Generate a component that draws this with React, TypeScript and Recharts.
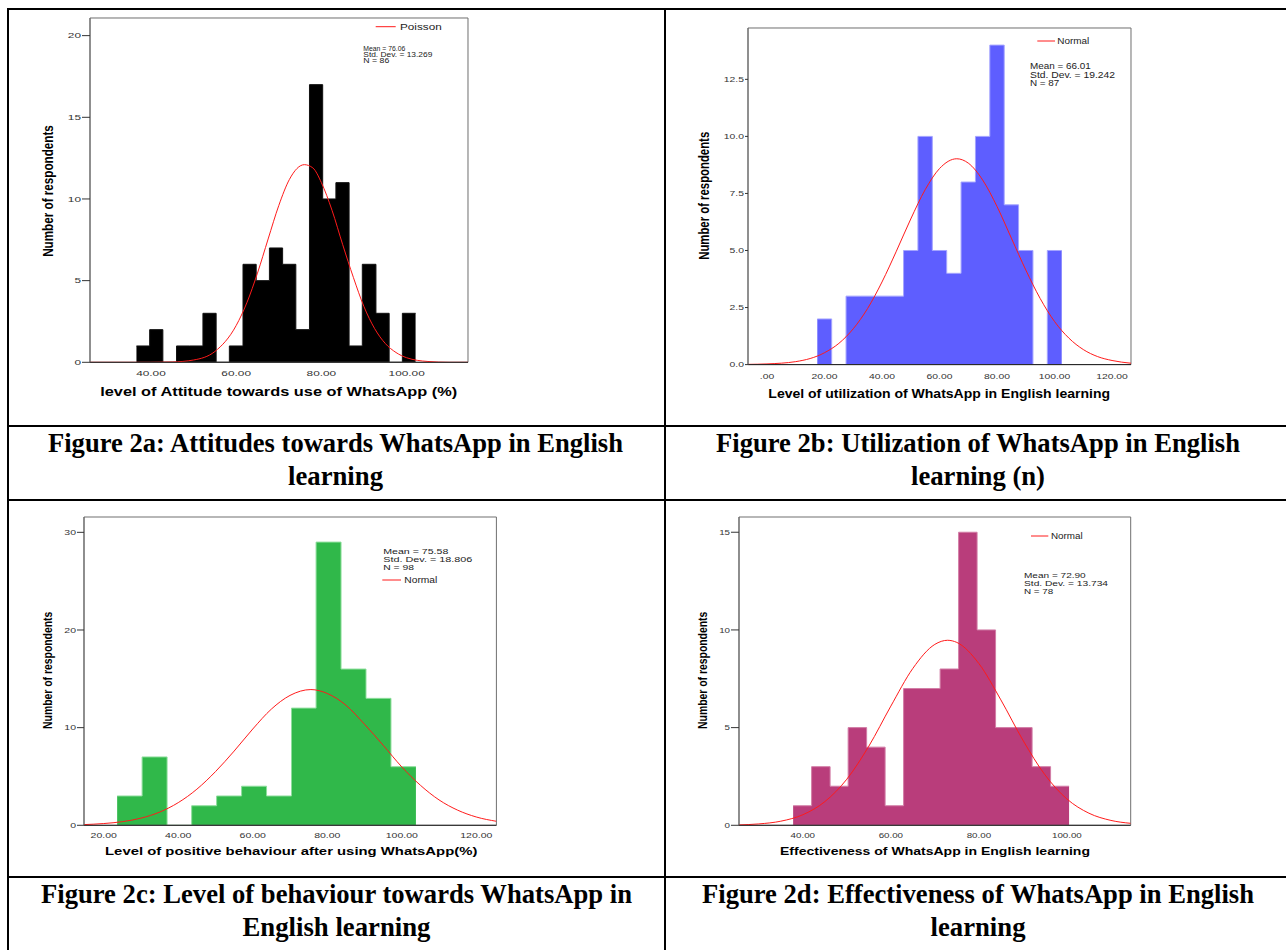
import React from 'react';
import { ComposedChart, Area, Line, XAxis, YAxis, ReferenceArea } from 'recharts';

// ---------- Figure 2a ----------
const binEdgesA = [36.6, 39.7, 42.8, 46.0, 49.1, 52.2, 55.3, 58.4, 61.6, 64.7, 67.8, 70.9, 74.0, 77.2, 80.3, 83.4, 86.5, 89.6, 92.8, 95.9, 99.0, 102.1];
const countsA = [1, 2, 0, 1, 1, 3, 0, 1, 6, 5, 7, 6, 2, 17, 10, 11, 1, 6, 3, 0, 3];
const curveXA = [25.7, 40, 45, 50, 55, 60, 62.5, 65, 67.5, 70, 72.5, 76, 78, 80, 82.5, 85, 87.5, 90, 92.5, 95, 97.5, 100, 105, 110, 114.4];
const curveYA = [0, 0, 0.02, 0.14, 0.66, 2.25, 3.64, 5.46, 7.55, 9.6, 11.2, 12.1, 11.9, 11.0, 9.3, 7.2, 5.2, 3.4, 2.06, 1.15, 0.6, 0.28, 0.05, 0, 0];
const xTicksA = [40, 60, 80, 100];
const xTickLabelsA = ['40.00', '60.00', '80.00', '100.00'];
const yTicksA = [0, 5, 10, 15, 20];
const yTickLabelsA = ['0', '5', '10', '15', '20'];
const statsA = ['Mean = 76.06', 'Std. Dev. = 13.269', 'N = 86'];

// ---------- Figure 2b ----------
const binEdgesB = [17.5, 22.5, 27.5, 32.5, 37.5, 42.5, 47.5, 52.5, 57.5, 62.5, 67.5, 72.5, 77.5, 82.5, 87.5, 92.5, 97.5, 102.5];
const countsB = [2, 0, 3, 3, 3, 3, 5, 10, 5, 4, 8, 10, 14, 7, 5, 0, 5];
const curveXB = [-6.6, 0, 10, 20, 25, 30, 35, 40, 45, 50, 55, 60, 66, 70, 75, 80, 85, 90, 95, 100, 105, 110, 115, 120, 126.6];
const curveYB = [0.01, 0.03, 0.13, 0.52, 0.93, 1.57, 2.46, 3.62, 4.97, 6.38, 7.66, 8.59, 9.02, 8.83, 8.09, 6.93, 5.54, 4.15, 2.9, 1.89, 1.16, 0.66, 0.35, 0.18, 0.06];
const xTicksB = [0, 20, 40, 60, 80, 100, 120];
const xTickLabelsB = ['.00', '20.00', '40.00', '60.00', '80.00', '100.00', '120.00'];
const yTicksB = [0, 2.5, 5, 7.5, 10, 12.5];
const yTickLabelsB = ['0.0', '2.5', '5.0', '7.5', '10.0', '12.5'];
const statsB = ['Mean = 66.01', 'Std. Dev. = 19.242', 'N = 87'];

// ---------- Figure 2c ----------
const binEdgesC = [23.6, 30.3, 37.0, 43.6, 50.3, 57.0, 63.7, 70.4, 77.0, 83.7, 90.4, 97.1, 103.8];
const countsC = [3, 7, 0, 2, 3, 4, 3, 12, 29, 16, 13, 6];
const curveXC = [14.7, 20, 25, 30, 35, 40, 45, 50, 55, 60, 65, 70, 75.6, 80, 85, 90, 95, 100, 105, 110, 115, 120, 125.4];
const curveYC = [0.07, 0.18, 0.37, 0.73, 1.35, 2.32, 3.7, 5.5, 7.6, 9.86, 11.9, 13.3, 13.9, 13.5, 12.3, 10.35, 8.2, 5.98, 4.1, 2.6, 1.55, 0.85, 0.41];
const xTicksC = [20, 40, 60, 80, 100, 120];
const xTickLabelsC = ['20.00', '40.00', '60.00', '80.00', '100.00', '120.00'];
const yTicksC = [0, 10, 20, 30];
const yTickLabelsC = ['0', '10', '20', '30'];
const statsC = ['Mean = 75.58', 'Std. Dev. = 18.806', 'N = 98'];

// ---------- Figure 2d ----------
const binEdgesD = [37.8, 42.0, 46.2, 50.3, 54.5, 58.7, 62.9, 67.1, 71.2, 75.4, 79.6, 83.8, 88.0, 92.1, 96.3, 100.5];
const countsD = [1, 3, 2, 5, 4, 1, 7, 7, 8, 15, 10, 5, 5, 3, 2];
const curveXD = [25.5, 30, 35, 40, 45, 50, 55, 60, 65, 70, 72.9, 75, 80, 85, 90, 95, 100, 105, 110, 114.5];
const curveYD = [0.02, 0.07, 0.21, 0.54, 1.21, 2.36, 4.05, 6.1, 8.03, 9.26, 9.47, 9.36, 8.28, 6.42, 4.36, 2.59, 1.35, 0.62, 0.25, 0.1];
const xTicksD = [40, 60, 80, 100];
const xTickLabelsD = ['40.00', '60.00', '80.00', '100.00'];
const yTicksD = [0, 5, 10, 15];
const yTickLabelsD = ['0', '5', '10', '15'];
const statsD = ['Mean = 72.90', 'Std. Dev. = 13.734', 'N = 78'];

const SANS = "'Liberation Sans', Arial, sans-serif";
const SERIF = "'Liberation Serif', 'Times New Roman', serif";

const stepData = (edges: number[], counts: number[]) =>
  edges.map((e, i) => ({ x: e, y: counts[Math.min(i, counts.length - 1)] }));
const curveData = (xs: number[], ys: number[]) => xs.map((x, i) => ({ x, y: ys[i] }));

const makeXTick = (ticks: number[], labels: string[], sx: number, dy: number) => (props: any) => {
  const { x, y, payload } = props;
  const i = ticks.indexOf(payload.value);
  return (
    <g transform={`translate(${x},${y + dy})`}>
      <text x={0} y={0} textAnchor="middle" fontSize={7.4} fontFamily={SANS} fill="#333" transform={`scale(${sx},1)`}>
        {labels[i]}
      </text>
    </g>
  );
};

const makeYTick = (ticks: number[], labels: string[], sx: number) => (props: any) => {
  const { x, y, payload } = props;
  const i = ticks.indexOf(payload.value);
  return (
    <g transform={`translate(${x},${y + 2.6})`}>
      <text x={0} y={0} textAnchor="end" fontSize={7.4} fontFamily={SANS} fill="#333" transform={`scale(${sx},1)`}>
        {labels[i]}
      </text>
    </g>
  );
};

type Cfg = {
  plot: { l: number; t: number; r: number; b: number };
  xDomain: [number, number];
  yDomain: [number, number];
  xTicks: number[];
  xLabels: string[];
  yTicks: number[];
  yLabels: string[];
  sx: number;
  xdy: number;
  yTickSize: number;
  fill: string;
  edge: string;
  bars: { x: number; y: number }[];
  curve: { x: number; y: number }[];
  name: string;
};

const cfgA: Cfg = {
  plot: { l: 90, t: 17.7, r: 468, b: 362 },
  xDomain: [25.7, 114.4], yDomain: [0, 21.08],
  xTicks: xTicksA, xLabels: xTickLabelsA, yTicks: yTicksA, yLabels: yTickLabelsA,
  sx: 1.6, xdy: 13.6, yTickSize: 8,
  fill: '#000000', edge: '#111111',
  bars: stepData(binEdgesA, countsA), curve: curveData(curveXA, curveYA), name: 'Poisson',
};
const cfgB: Cfg = {
  plot: { l: 747.7, t: 27.7, r: 1130.7, b: 364.3 },
  xDomain: [-6.6, 126.6], yDomain: [0, 14.75],
  xTicks: xTicksB, xLabels: xTickLabelsB, yTicks: yTicksB, yLabels: yTickLabelsB,
  sx: 1.4, xdy: 14, yTickSize: 3,
  fill: '#5e5eff', edge: '#a4a4ff',
  bars: stepData(binEdgesB, countsB), curve: curveData(curveXB, curveYB), name: 'Normal',
};
const cfgC: Cfg = {
  plot: { l: 84.3, t: 516.7, r: 496.7, b: 825 },
  xDomain: [14.7, 125.4], yDomain: [0, 31.57],
  xTicks: xTicksC, xLabels: xTickLabelsC, yTicks: yTicksC, yLabels: yTickLabelsC,
  sx: 1.42, xdy: 12.8, yTickSize: 7,
  fill: '#30b84a', edge: '#8ede9c',
  bars: stepData(binEdgesC, countsC), curve: curveData(curveXC, curveYC), name: 'Normal',
};
const cfgD: Cfg = {
  plot: { l: 739, t: 516.7, r: 1130.7, b: 825 },
  xDomain: [25.5, 114.5], yDomain: [0, 15.78],
  xTicks: xTicksD, xLabels: xTickLabelsD, yTicks: yTicksD, yLabels: yTickLabelsD,
  sx: 1.32, xdy: 12.8, yTickSize: 8,
  fill: '#b93d7b', edge: '#d27ca6',
  bars: stepData(binEdgesD, countsD), curve: curveData(curveXD, curveYD), name: 'Normal',
};

function Hist({ cfg }: { cfg: Cfg }) {
  const YW = 40, M = 5, XH = 20;
  const { plot } = cfg;
  const left = plot.l - YW;
  const top = plot.t - M;
  const width = plot.r + M - left;
  const height = plot.b + XH + M - top;
  return (
    <div style={{ position: 'absolute', left, top, width, height }}>
      <ComposedChart width={width} height={height} margin={{ top: M, right: M, bottom: M, left: 0 }}>
        <XAxis
          type="number" dataKey="x" domain={cfg.xDomain} allowDataOverflow
          ticks={cfg.xTicks} interval={0} height={XH}
          tickLine={false} tickSize={0} tickMargin={0}
          axisLine={{ stroke: '#222', strokeWidth: 1 }}
          tick={makeXTick(cfg.xTicks, cfg.xLabels, cfg.sx, cfg.xdy)}
        />
        <YAxis
          type="number" domain={cfg.yDomain} allowDataOverflow
          ticks={cfg.yTicks} interval={0} width={YW}
          tickSize={cfg.yTickSize} tickMargin={1}
          tickLine={{ stroke: '#333', strokeWidth: 1 }}
          axisLine={{ stroke: '#666', strokeWidth: 1 }}
          tick={makeYTick(cfg.yTicks, cfg.yLabels, cfg.sx)}
        />
        <Area
          type="stepAfter" data={cfg.bars} dataKey="y" baseValue={0}
          fill={cfg.fill} fillOpacity={1} stroke={cfg.edge} strokeWidth={1}
          dot={false} activeDot={false} isAnimationActive={false}
        />
        <Line
          type="monotone" data={cfg.curve} dataKey="y" name={cfg.name}
          stroke="#ff1a1a" strokeWidth={1} dot={false} activeDot={false} isAnimationActive={false}
        />
        <ReferenceArea
          x1={cfg.xDomain[0]} x2={cfg.xDomain[1]} y1={cfg.yDomain[0]} y2={cfg.yDomain[1]}
          fill="none" fillOpacity={0} stroke="#6e6e6e" strokeWidth={1} ifOverflow="visible"
        />
      </ComposedChart>
    </div>
  );
}

type Fit = { x: number; y: number; len: number; fs: number; text: string };

function FitText({ t, anchor = 'start', weight = 'normal', family = SANS, fill = '#222' }: { t: Fit; anchor?: string; weight?: string; family?: string; fill?: string }) {
  return (
    <text x={t.x} y={t.y} fontSize={t.fs} fontFamily={family} fontWeight={weight} fill={fill}
      textAnchor={anchor as any} textLength={t.len} lengthAdjust="spacingAndGlyphs">
      {t.text}
    </text>
  );
}

function YTitle({ bx, cy, len, fs }: { bx: number; cy: number; len: number; fs: number }) {
  return (
    <text transform={`translate(${bx},${cy}) rotate(-90)`} x={0} y={0} textAnchor="middle"
      fontSize={fs} fontFamily={SANS} fontWeight="bold" fill="#000"
      textLength={len} lengthAdjust="spacingAndGlyphs">
      Number of respondents
    </text>
  );
}

function Legend({ x1, x2, y, tx, len, base, label }: { x1: number; x2: number; y: number; tx: number; len: number; base: number; label: string }) {
  return (
    <g>
      <line x1={x1} x2={x2} y1={y} y2={y} stroke="#ff1a1a" strokeWidth={1} />
      <FitText t={{ x: tx, y: base, len, fs: 9, text: label }} />
    </g>
  );
}

function Stats({ x, ys, lens, fs, lines }: { x: number; ys: number[]; lens: number[]; fs: number; lines: string[] }) {
  return (
    <g>
      {lines.map((s, i) => (
        <FitText key={i} t={{ x, y: ys[i], len: lens[i], fs, text: s }} />
      ))}
    </g>
  );
}

function Caption({ cx, ys, lines, lens }: { cx: number; ys: number[]; lines: string[]; lens: number[] }) {
  return (
    <g>
      {lines.map((s, i) => (
        <FitText key={i} t={{ x: cx, y: ys[i], len: lens[i], fs: 27, text: s }} anchor="middle" weight="bold" family={SERIF} fill="#000" />
      ))}
    </g>
  );
}

export default function App() {
  return (
    <div style={{ position: 'absolute', left: 0, top: 0, width: 1286, height: 950, background: '#fff', overflow: 'hidden' }}>
      <Hist cfg={cfgA} />
      <Hist cfg={cfgB} />
      <Hist cfg={cfgC} />
      <Hist cfg={cfgD} />
      <svg width={1286} height={950} style={{ position: 'absolute', left: 0, top: 0, pointerEvents: 'none' }}>
        {/* table rules */}
        <rect x={7} y={8} width={1290} height={2} fill="#000" />
        <rect x={7} y={8} width={2} height={950} fill="#000" />
        <rect x={664} y={8} width={2} height={950} fill="#000" />
        <rect x={7} y={425} width={1290} height={2} fill="#000" />
        <rect x={7} y={499} width={1290} height={2} fill="#000" />
        <rect x={7} y={876} width={1290} height={2} fill="#000" />

        {/* Figure 2a */}
        <Legend x1={375.7} x2={395.7} y={26.7} tx={400} len={41.7} base={30} label="Poisson" />
        <Stats x={363.3} ys={[50.5, 56.5, 62.5]} lens={[42, 69, 26]} fs={6.4} lines={statsA} />
        <FitText t={{ x: 278.7, y: 396, len: 357, fs: 12.5, text: 'level of Attitude towards use of WhatsApp (%)' }} anchor="middle" weight="bold" fill="#000" />
        <YTitle bx={53} cy={191} len={131.7} fs={14} />

        {/* Figure 2b */}
        <Legend x1={1037.3} x2={1055} y={41} tx={1057.3} len={32} base={44.3} label="Normal" />
        <Stats x={1030} ys={[69, 77.6, 86]} lens={[60.7, 85, 29.3]} fs={8.5} lines={statsB} />
        <FitText t={{ x: 939.2, y: 398.3, len: 341.7, fs: 13, text: 'Level of utilization of WhatsApp in English learning' }} anchor="middle" weight="bold" fill="#000" />
        <YTitle bx={708.5} cy={195.8} len={128} fs={14} />

        {/* Figure 2c */}
        <Stats x={383.3} ys={[554, 562, 570]} lens={[65, 89, 30.7]} fs={8} lines={statsC} />
        <Legend x1={382.3} x2={401} y={580} tx={404.3} len={33} base={583.3} label="Normal" />
        <FitText t={{ x: 291.2, y: 855, len: 372.3, fs: 11.6, text: 'Level of positive behaviour after using WhatsApp(%)' }} anchor="middle" weight="bold" fill="#000" />
        <YTitle bx={51.5} cy={670.3} len={117.3} fs={12.5} />

        {/* Figure 2d */}
        <Legend x1={1031} x2={1048.3} y={536} tx={1051} len={31.7} base={539.3} label="Normal" />
        <Stats x={1024} ys={[578, 586, 594]} lens={[61.7, 84, 29.3]} fs={8} lines={statsD} />
        <FitText t={{ x: 935, y: 855, len: 310, fs: 11.6, text: 'Effectiveness of WhatsApp in English learning' }} anchor="middle" weight="bold" fill="#000" />
        <YTitle bx={707} cy={670.3} len={117.3} fs={12.5} />

        {/* Captions */}
        <Caption cx={335.5} ys={[452, 485]} lines={['Figure 2a: Attitudes towards WhatsApp in English', 'learning']} lens={[575, 95]} />
        <Caption cx={978} ys={[452, 485]} lines={['Figure 2b: Utilization of WhatsApp in English', 'learning (n)']} lens={[524, 134]} />
        <Caption cx={336.5} ys={[903, 936]} lines={['Figure 2c: Level of behaviour towards WhatsApp in', 'English learning']} lens={[591, 188]} />
        <Caption cx={978} ys={[903, 936]} lines={['Figure 2d: Effectiveness of WhatsApp in English', 'learning']} lens={[552, 95]} />
      </svg>
    </div>
  );
}
